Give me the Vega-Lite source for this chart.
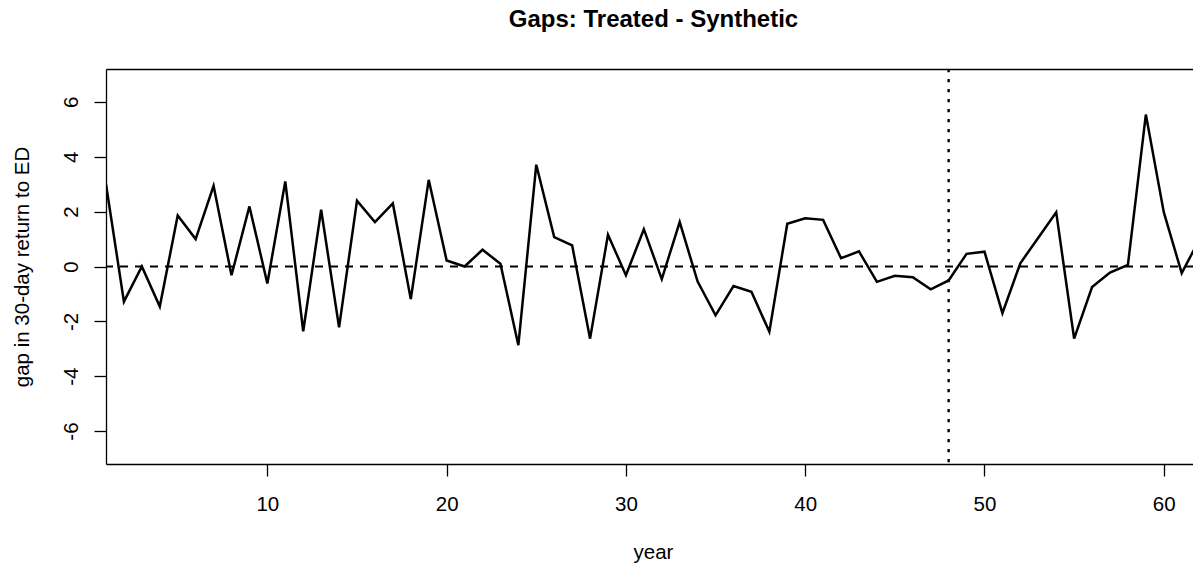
{
  "$schema": "https://vega.github.io/schema/vega-lite/v6.json",
  "autosize": {"type": "none"},
  "padding": {"left": 106, "top": 69, "right": 0, "bottom": 102},
  "width": 1087,
  "height": 395,
  "background": "white",
  "config": {
    "view": {"stroke": null},
    "font": "Liberation Sans",
    "axis": {
      "grid": false,
      "domainColor": "black",
      "domainWidth": 1.3,
      "tickColor": "black",
      "tickWidth": 1.3,
      "tickSize": 12,
      "labelColor": "black",
      "titleColor": "black",
      "labelFont": "Liberation Sans",
      "titleFont": "Liberation Sans",
      "labelFontSize": 20.5,
      "titleFontSize": 20.5,
      "titleFontWeight": "normal"
    }
  },
  "title": {
    "text": "Gaps: Treated - Synthetic",
    "font": "Liberation Sans",
    "fontSize": 24,
    "fontWeight": "bold",
    "color": "black",
    "anchor": "middle",
    "frame": "group",
    "baseline": "alphabetic",
    "offset": 17,
    "dx": 4
  },
  "datasets": {
    "gaps": [
      {"year": 1, "gap": 3.0},
      {"year": 2, "gap": -1.28},
      {"year": 3, "gap": 0.0},
      {"year": 4, "gap": -1.46},
      {"year": 5, "gap": 1.86},
      {"year": 6, "gap": 1.0},
      {"year": 7, "gap": 2.94},
      {"year": 8, "gap": -0.32},
      {"year": 9, "gap": 2.19},
      {"year": 10, "gap": -0.62},
      {"year": 11, "gap": 3.1},
      {"year": 12, "gap": -2.36},
      {"year": 13, "gap": 2.07},
      {"year": 14, "gap": -2.22},
      {"year": 15, "gap": 2.4},
      {"year": 16, "gap": 1.62},
      {"year": 17, "gap": 2.3},
      {"year": 18, "gap": -1.19},
      {"year": 19, "gap": 3.16},
      {"year": 20, "gap": 0.22},
      {"year": 21, "gap": 0.0},
      {"year": 22, "gap": 0.61},
      {"year": 23, "gap": 0.1},
      {"year": 24, "gap": -2.87},
      {"year": 25, "gap": 3.71},
      {"year": 26, "gap": 1.07},
      {"year": 27, "gap": 0.77},
      {"year": 28, "gap": -2.63},
      {"year": 29, "gap": 1.16},
      {"year": 30, "gap": -0.32},
      {"year": 31, "gap": 1.36},
      {"year": 32, "gap": -0.46},
      {"year": 33, "gap": 1.62},
      {"year": 34, "gap": -0.55},
      {"year": 35, "gap": -1.78},
      {"year": 36, "gap": -0.71},
      {"year": 37, "gap": -0.92},
      {"year": 38, "gap": -2.38},
      {"year": 39, "gap": 1.56},
      {"year": 40, "gap": 1.76},
      {"year": 41, "gap": 1.7},
      {"year": 42, "gap": 0.3},
      {"year": 43, "gap": 0.55},
      {"year": 44, "gap": -0.56},
      {"year": 45, "gap": -0.34},
      {"year": 46, "gap": -0.39},
      {"year": 47, "gap": -0.83},
      {"year": 48, "gap": -0.51},
      {"year": 49, "gap": 0.46},
      {"year": 50, "gap": 0.54},
      {"year": 51, "gap": -1.7},
      {"year": 52, "gap": 0.12},
      {"year": 53, "gap": 1.05},
      {"year": 54, "gap": 1.98},
      {"year": 55, "gap": -2.63},
      {"year": 56, "gap": -0.75},
      {"year": 57, "gap": -0.22},
      {"year": 58, "gap": 0.06},
      {"year": 59, "gap": 5.54},
      {"year": 60, "gap": 1.98},
      {"year": 61, "gap": -0.24},
      {"year": 62, "gap": 1.0}
    ],
    "treatment": [{"year": 48}],
    "baseline": [{"gap": 0}]
  },
  "layer": [
    {
      "data": {"name": "gaps"},
      "mark": {"type": "line", "color": "black", "strokeWidth": 2.5, "clip": true, "strokeJoin": "miter"},
      "encoding": {
        "x": {
          "field": "year",
          "type": "quantitative",
          "scale": {"domain": [1, 61.63], "nice": false, "zero": false},
          "axis": {
            "orient": "bottom",
            "title": "year",
            "values": [10, 20, 30, 40, 50, 60],
            "labelBaseline": "alphabetic",
            "labelPadding": 34,
            "titleBaseline": "alphabetic",
            "titleX": 547,
            "titleY": 94
          }
        },
        "y": {
          "field": "gap",
          "type": "quantitative",
          "scale": {"domain": [-7.2, 7.2], "nice": false, "zero": false},
          "axis": {
            "orient": "left",
            "title": "gap in 30-day return to ED",
            "values": [-6, -4, -2, 0, 2, 4, 6],
            "labelExpr": "replace(datum.label, '\u2212', '-')",
            "labelAngle": 270,
            "labelAlign": "center",
            "labelBaseline": "alphabetic",
            "labelPadding": 17,
            "titleAngle": 270,
            "titleAlign": "center",
            "titleBaseline": "alphabetic",
            "titleX": -78,
            "titleY": 197.5
          }
        }
      }
    },
    {
      "data": {"name": "baseline"},
      "mark": {"type": "rule", "color": "black", "strokeWidth": 2.2, "strokeDash": [8, 7]},
      "encoding": {
        "y": {
          "field": "gap",
          "type": "quantitative",
          "scale": {"domain": [-7.2, 7.2], "nice": false, "zero": false},
          "axis": {
            "orient": "left",
            "title": "gap in 30-day return to ED",
            "values": [-6, -4, -2, 0, 2, 4, 6],
            "labelExpr": "replace(datum.label, '\u2212', '-')",
            "labelAngle": 270,
            "labelAlign": "center",
            "labelBaseline": "alphabetic",
            "labelPadding": 17,
            "titleAngle": 270,
            "titleAlign": "center",
            "titleBaseline": "alphabetic",
            "titleX": -78,
            "titleY": 197.5
          }
        }
      }
    },
    {
      "data": {"name": "treatment"},
      "mark": {"type": "rule", "color": "black", "strokeWidth": 2.4, "strokeDash": [3.3, 6.7]},
      "encoding": {
        "x": {"field": "year", "type": "quantitative", "axis": null, "scale": {"domain": [1, 61.63], "nice": false, "zero": false}}
      }
    },
    {
      "data": {"name": "gaps"},
      "mark": {"type": "line", "opacity": 0, "clip": true},
      "encoding": {
        "x": {
          "field": "year",
          "type": "quantitative",
          "axis": {"orient": "top", "title": null, "labels": false, "ticks": false}
        },
        "y": {
          "field": "gap",
          "type": "quantitative",
          "axis": {
            "orient": "left",
            "title": "gap in 30-day return to ED",
            "values": [-6, -4, -2, 0, 2, 4, 6],
            "labelExpr": "replace(datum.label, '\u2212', '-')",
            "labelAngle": 270,
            "labelAlign": "center",
            "labelBaseline": "alphabetic",
            "labelPadding": 17,
            "titleAngle": 270,
            "titleAlign": "center",
            "titleBaseline": "alphabetic",
            "titleX": -78,
            "titleY": 197.5
          }
        }
      }
    }
  ]
}
